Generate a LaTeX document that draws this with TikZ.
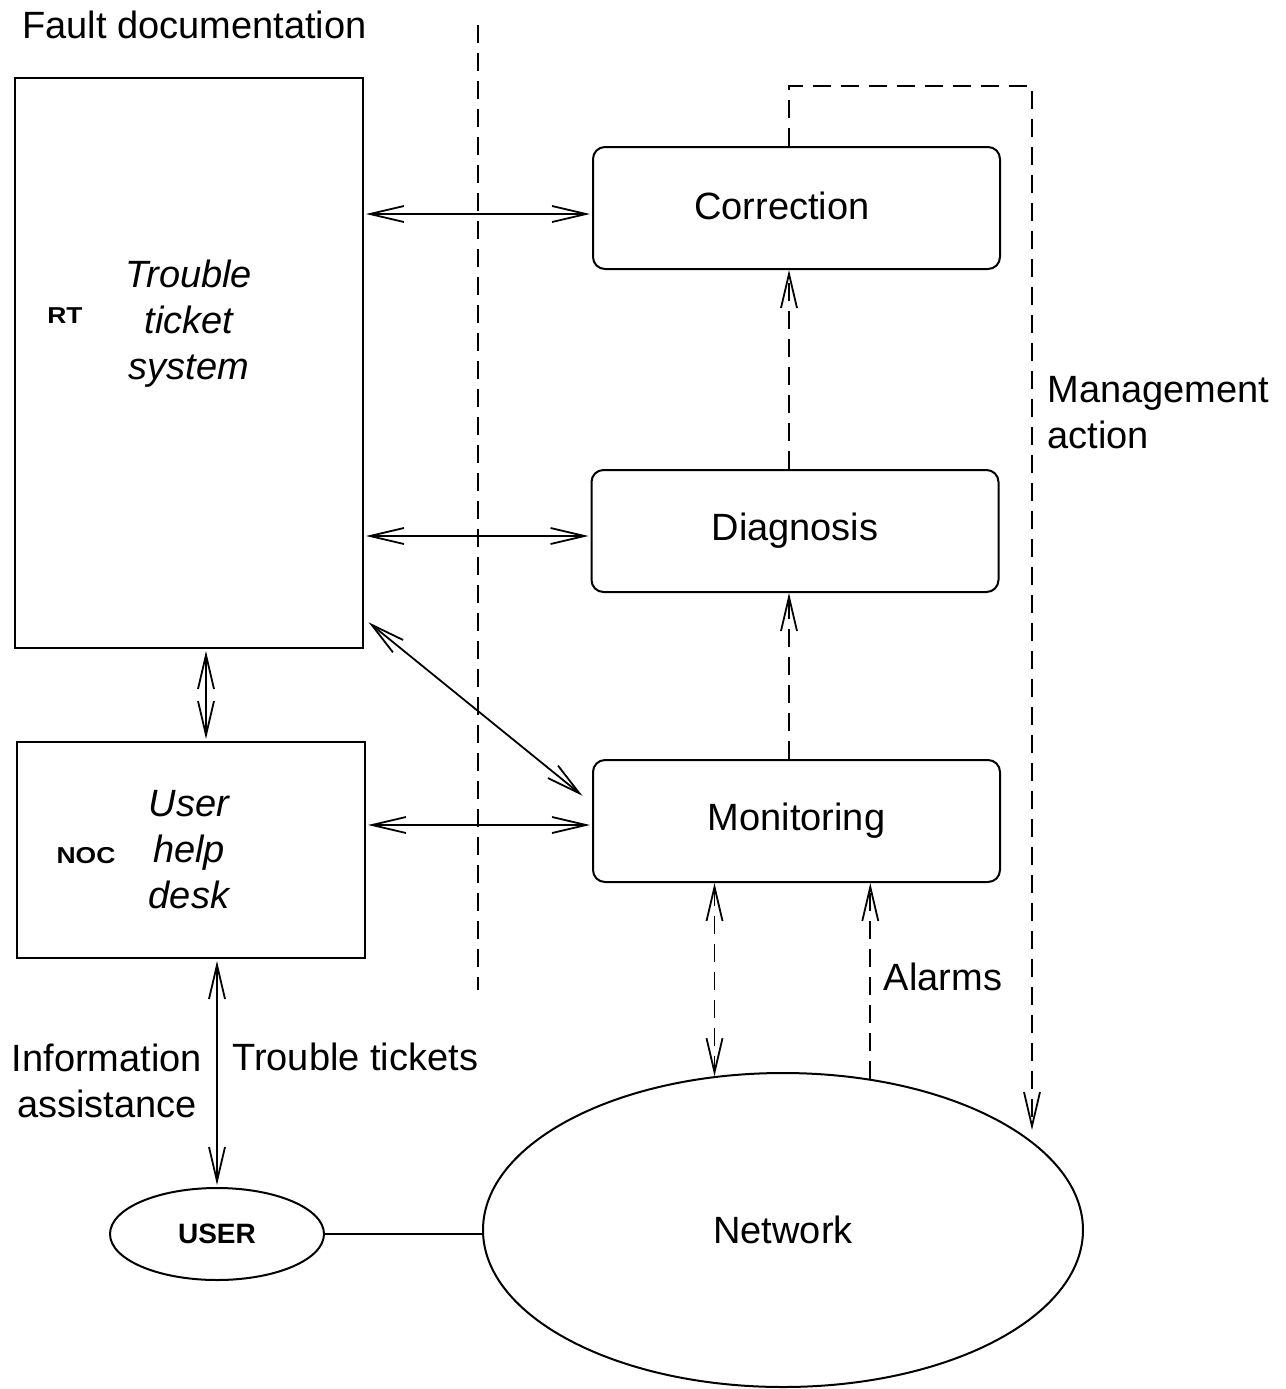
\documentclass[tikz,border=0pt]{standalone}
\usepackage{fontspec}
\setmainfont{Liberation Sans}
\usetikzlibrary{arrows.meta,calc,shapes.geometric}
\begin{document}
\begin{tikzpicture}[x=0.5pt,y=-0.5pt,
  >={Straight Barb[length=17pt,width=8pt]},
  every node/.style={font=\fontsize{19}{23}\selectfont, inner sep=0pt},
  rbox/.style={draw, line width=1pt, minimum width=203.5pt, minimum height=61pt, rounded corners=6pt},
  sqbox/.style={draw, line width=1pt, minimum width=174pt},
  conn/.style={line width=0.9pt, <->, shorten <=1pt, shorten >=1pt},
  dconn/.style={line width=0.9pt, dash pattern=on 9pt off 5pt},
  tag/.style={font=\fontsize{11.5}{14}\selectfont\bfseries},
  inbox/.style={align=center, font=\fontsize{19}{23}\selectfont\itshape}]
\useasboundingbox (0,0) rectangle (1286,1389);

% separator
\coordinate (s1) at (478,25);
\coordinate (s2) at (478,990);
\draw[dconn] (s1) -- (s2);

\node[anchor=base west] (fd) at (22,38) {Fault documentation};

% left boxes
\node[sqbox, minimum height=285pt] (rt) at (189,363) {};
\node[tag] (rtl) at (65,316) {\scalebox{1.15}[1]{RT}};
\node[inbox] (rtt) at (189,324) {Trouble\\ticket\\system};

\node[sqbox, minimum height=108pt] (noc) at (191,850) {};
\node[tag] (nocl) at (86,856) {\scalebox{1.15}[1]{NOC}};
\node[inbox] (noct) at (189,850) {User\\help\\desk};

% right boxes
\node[rbox] (corr) at (796.5,208) {};
\node (corrt) at (782,206) {Correction};
\node[rbox] (diag) at (795,531) {Diagnosis};
\node[rbox] (mon) at (796.5,821) {Monitoring};

% ellipses
\node[ellipse, draw, line width=1pt, minimum width=300pt, minimum height=157pt] (net) at (783,1230) {Network};
\node[ellipse, draw, line width=1pt, minimum width=107pt, minimum height=46pt, font=\fontsize{14}{16}\selectfont\bfseries] (user) at (217,1234) {USER};

% solid connectors
\draw[conn] ($(rt.east |- corr.west)+(0,6)$) -- ($(corr.west)+(0,6)$);
\draw[conn] ($(rt.east |- diag.west)+(0,5)$) -- ($(diag.west)+(0,5)$);
\draw[conn] ($(rt.south east)+(3,-28)$) -- ($(mon.west)+(-8,-24)$);
\draw[conn] ($(noc.east |- mon.west)+(0,4)$) -- ($(mon.west)+(0,4)$);
\coordinate (vx) at (206,0);
\draw[conn] (rt.south -| vx) -- (noc.north -| vx);
\draw[conn] (noc.south -| user.north) -- (user.north);
\draw[line width=0.9pt] (user.east) -- (user.east -| net.west);

% dashed connectors
\coordinate (dx1) at (789,0);
\draw[dconn, ->] (mon.north -| dx1) -- (diag.south -| dx1);
\draw[dconn, ->] (diag.north -| dx1) -- (corr.south -| dx1);
\draw[dconn, <->] (mon.south -| net.114) -- (net.114);
\draw[dconn, ->] (net.60) -- (mon.south -| net.60);
\coordinate (ma1) at (789,86);
\coordinate (ma2) at (1032,86);
\coordinate (ma3) at (1032,1130);
\draw[dconn, ->] (corr.north -| ma1) -- (ma1) -- (ma2) -- (ma3);

% labels
\node[anchor=west, align=left] (mal) at (1047,413) {Management\\action};
\node (al) at (943,977) {Alarms};
\node[align=center] (ia) at (107,1081) {Information\\assistance};
\node[anchor=base west] (tt) at (232,1070) {Trouble tickets};
\end{tikzpicture}
\end{document}
